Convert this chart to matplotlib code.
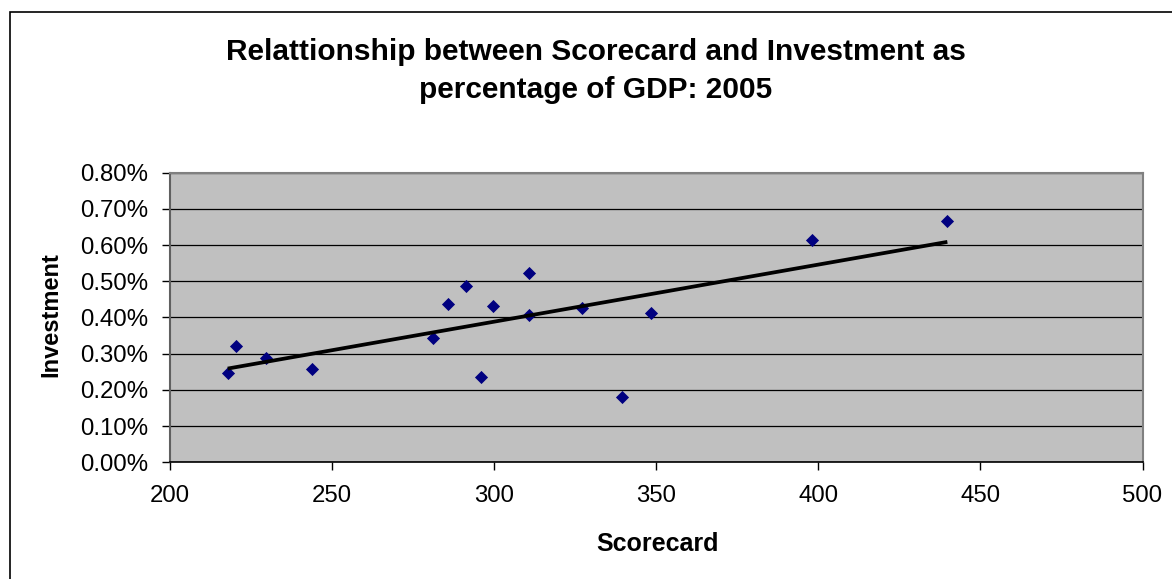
import numpy as np
import matplotlib
matplotlib.use("Agg")
import matplotlib.pyplot as plt
from matplotlib.ticker import FuncFormatter
from matplotlib.patches import Rectangle

plt.rcParams['font.family'] = ['Liberation Sans', 'DejaVu Sans']

# Scorecard values and investment as % of GDP (2005)
scorecard = [217.8, 220.3, 229.6, 243.9, 281.1, 285.8, 291.2, 295.9,
             299.5, 310.8, 310.8, 327.1, 339.4, 348.4, 398.1, 439.8]
investment = [0.246, 0.321, 0.289, 0.257, 0.342, 0.437, 0.487, 0.235,
              0.433, 0.524, 0.406, 0.427, 0.181, 0.412, 0.614, 0.667]

title_lines = ["Relattionship between Scorecard and Investment as",
               "percentage of GDP: 2005"]
x_label = "Scorecard"
y_label = "Investment"
x_ticks = [200, 250, 300, 350, 400, 450, 500]
y_ticks = [0.0, 0.1, 0.2, 0.3, 0.4, 0.5, 0.6, 0.7, 0.8]

W, H = 1172, 579
fig = plt.figure(figsize=(W / 100, H / 100), dpi=100)
fig.patch.set_facecolor('white')

# outer chart frame
fig.patches.append(Rectangle((10 / W, -0.05), 1.2, 1 - 12 / H + 0.05,
                             transform=fig.transFigure, fill=False,
                             edgecolor='black', linewidth=1.2))

left, right, top, bottom = 170, 1142.5, 172.7, 462.3
ax = fig.add_axes([left / W, 1 - bottom / H, (right - left) / W, (bottom - top) / H])
ax.set_facecolor('#C0C0C0')

x = np.array(scorecard)
y = np.array(investment)
ax.scatter(x, y, marker='D', s=6.7 ** 2, color='#000080', zorder=3, linewidths=0)

# linear trend line across the data range
slope, intercept = np.polyfit(x, y, 1)
xs = np.array([x.min(), x.max()])
ax.plot(xs, slope * xs + intercept, color='black', linewidth=2.7, zorder=4,
        solid_capstyle='butt')

ax.set_xlim(200, 500)
ax.set_ylim(0, 0.8)
ax.set_xticks(x_ticks)
ax.set_yticks(y_ticks)
ax.yaxis.set_major_formatter(FuncFormatter(lambda v, p: f"{v:.2f}%"))
ax.grid(axis='y', color='black', linewidth=0.9)
ax.set_axisbelow(True)

ax.tick_params(axis='both', labelsize=17.3, colors='black', direction='out',
               length=5.8, width=1)
ax.tick_params(axis='y', pad=10)
ax.tick_params(axis='x', pad=10.5)

for s in ['top', 'right']:
    ax.spines[s].set_color('#808080')
    ax.spines[s].set_linewidth(1.5)
ax.spines['left'].set_color('#606060')
ax.spines['left'].set_linewidth(1.5)
ax.spines['bottom'].set_color('black')
ax.spines['bottom'].set_linewidth(1.2)

for line, base in zip(title_lines, [60, 98]):
    fig.text(596 / W, 1 - base / H, line, ha='center', va='baseline',
             fontsize=21.5, fontweight='bold')
fig.text(658 / W, 1 - 551 / H, x_label, ha='center', va='baseline',
         fontsize=18, fontweight='bold')
fig.text(51 / W, 1 - 315 / H, y_label, ha='center', va='center',
         fontsize=17, fontweight='bold', rotation=90)

fig.savefig('out.png', dpi=100)
